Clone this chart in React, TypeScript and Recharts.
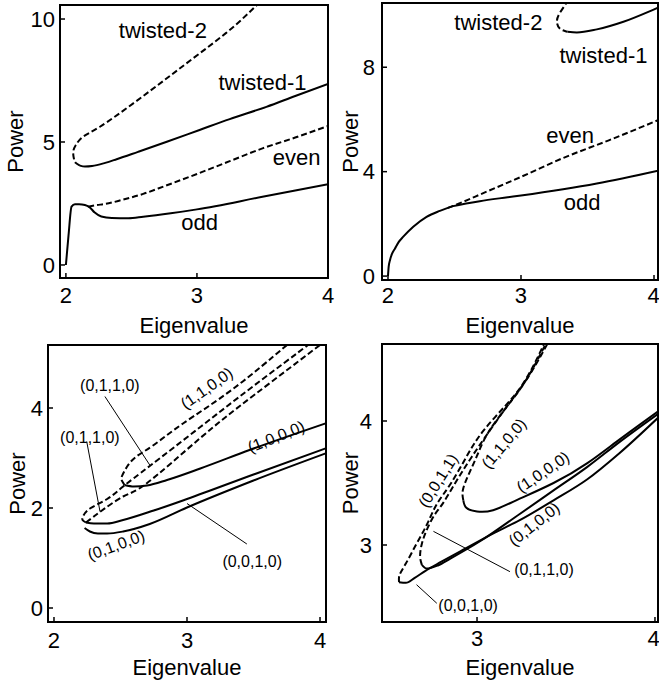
import React from 'react';
import { LineChart, Line, XAxis, YAxis, ReferenceArea, ReferenceLine, ReferenceDot } from 'recharts';

type Pt = { x: number; y: number };
const P = (x: number, y: number): Pt => ({ x, y });

// ---- panel 1 (top left) ----
const p1Odd = [P(2.0, 0), P(2.02, 1.2), P(2.043, 2.37), P(2.069, 2.47), P(2.1, 2.47), P(2.145, 2.44), P(2.18, 2.35), P(2.22, 2.13), P(2.27, 1.97), P(2.35, 1.91), P(2.476, 1.9), P(2.59, 1.96), P(2.8, 2.1), P(3.0, 2.26), P(3.5, 2.77), P(4.0, 3.28)];
const p1Even = [P(2.17, 2.37), P(2.23, 2.43), P(2.3, 2.48), P(2.425, 2.64), P(2.59, 2.89), P(2.75, 3.2), P(3.0, 3.7), P(3.25, 4.22), P(3.5, 4.74), P(3.75, 5.18), P(4.0, 5.65)];
const p1Twisted2 = [P(2.107, 4.04), P(2.075, 4.15), P(2.061, 4.33), P(2.056, 4.61), P(2.076, 4.88), P(2.132, 5.22), P(2.26, 5.62), P(2.514, 6.57), P(2.77, 7.59), P(3.02, 8.6), P(3.28, 9.69), P(3.52, 10.9)];
const p1Twisted1 = [P(2.107, 4.04), P(2.145, 4.0), P(2.2, 4.02), P(2.3, 4.15), P(2.387, 4.3), P(2.55, 4.6), P(2.77, 5.01), P(3.02, 5.49), P(3.25, 5.93), P(3.53, 6.43), P(3.75, 6.87), P(4.0, 7.36)];

// ---- panel 2 (top right) ----
const p2Odd = [P(2.0, 0), P(2.005, 0.35), P(2.015, 0.61), P(2.03, 0.85), P(2.053, 1.06), P(2.08, 1.3), P(2.115, 1.51), P(2.19, 1.89), P(2.29, 2.27), P(2.39, 2.5), P(2.49, 2.68), P(2.6, 2.79), P(2.69, 2.87), P(2.9, 3.02), P(3.0, 3.09), P(3.57, 3.55), P(4.03, 4.04)];
const p2Even = [P(2.45, 2.61), P(2.49, 2.69), P(2.6, 2.92), P(2.69, 3.12), P(2.9, 3.58), P(3.0, 3.8), P(3.32, 4.53), P(3.66, 5.2), P(4.03, 5.97)];
const p2Twisted2 = [P(3.35, 10.6), P(3.34, 10.45), P(3.29, 10.06), P(3.27, 9.74), P(3.29, 9.49), P(3.33, 9.39), P(3.35, 9.36)];
const p2Twisted1 = [P(3.35, 9.36), P(3.42, 9.33), P(3.57, 9.45), P(3.77, 9.74), P(3.98, 10.17), P(4.03, 10.28)];

// ---- panel 3 (bottom left) ----
const p3DashA = [P(2.24, 1.71), P(2.215, 1.76), P(2.22, 1.84), P(2.27, 1.99), P(2.4, 2.18), P(2.52, 2.43), P(2.72, 2.84), P(3.1, 3.62), P(3.5, 4.44), P(3.91, 5.26), P(3.95, 5.35)];
const p3DashB = [P(2.24, 1.71), P(2.3, 1.83), P(2.35, 1.93), P(2.52, 2.23), P(2.7, 2.5), P(3.1, 3.4), P(3.5, 4.25), P(4.0, 5.26), P(4.05, 5.37)];
const p3Dash1100 = [P(2.53, 2.46), P(2.51, 2.55), P(2.51, 2.63), P(2.55, 2.83), P(2.62, 3.03), P(2.75, 3.26), P(2.97, 3.69), P(3.35, 4.39), P(3.72, 5.19), P(3.8, 5.36)];
const p3Solid1000 = [P(2.53, 2.46), P(2.6, 2.43), P(2.7, 2.45), P(2.85, 2.56), P(3.1, 2.79), P(3.47, 3.16), P(4.05, 3.7)];
const p3SolidC = [P(2.24, 1.71), P(2.3, 1.69), P(2.4, 1.69), P(2.52, 1.76), P(2.75, 1.95), P(3.0, 2.18), P(3.5, 2.67), P(4.05, 3.2)];
const p3SolidD = [P(2.23, 1.6), P(2.27, 1.53), P(2.33, 1.49), P(2.4, 1.49), P(2.52, 1.53), P(2.72, 1.68), P(3.0, 2.01), P(3.5, 2.55), P(4.05, 3.1)];

// ---- panel 4 (bottom right) ----
const p4Dash0011 = [P(2.562, 2.7), P(2.565, 2.76), P(2.6, 2.85), P(2.66, 3.01), P(2.72, 3.17), P(2.774, 3.33), P(2.85, 3.49), P(2.94, 3.71), P(3.035, 3.92), P(3.17, 4.14), P(3.28, 4.35), P(3.39, 4.66)];
const p4Dash0110 = [P(2.69, 2.84), P(2.68, 2.91), P(2.69, 3.01), P(2.717, 3.12), P(2.76, 3.24), P(2.81, 3.34), P(2.886, 3.52), P(2.97, 3.71), P(3.07, 3.92), P(3.18, 4.14), P(3.29, 4.36), P(3.41, 4.66)];
const p4Dash1100 = [P(2.923, 3.36), P(2.92, 3.44), P(2.95, 3.56), P(3.0, 3.72), P(3.06, 3.9), P(3.17, 4.12), P(3.28, 4.34), P(3.4, 4.66)];
const p4Solid0010 = [P(2.562, 2.7), P(2.6, 2.695), P(2.65, 2.735), P(2.708, 2.79), P(2.8, 2.865), P(2.92, 2.96), P(3.1, 3.1), P(3.24, 3.2), P(3.43, 3.36), P(3.62, 3.53), P(3.8, 3.74), P(4.02, 4.03)];
const p4Solid0100 = [P(2.69, 2.84), P(2.717, 2.81), P(2.78, 2.835), P(2.85, 2.89), P(3.017, 3.03), P(3.24, 3.25), P(3.43, 3.44), P(3.62, 3.63), P(3.8, 3.83), P(4.02, 4.06)];
const p4Solid1000 = [P(2.923, 3.36), P(2.94, 3.3), P(3.0, 3.27), P(3.09, 3.28), P(3.22, 3.36), P(3.43, 3.5), P(3.62, 3.66), P(3.8, 3.85), P(4.02, 4.08)];

const FONT = '"Liberation Sans", Arial, Helvetica, sans-serif';

interface Curve { data: Pt[]; dashed?: boolean; type?: 'monotone' | 'natural' | 'linear' }
interface Note { x: number; y: number; text: string; angle?: number; size?: number }
interface Leader { from: Pt; to: Pt }

interface PanelProps {
  left: number; top: number; width: number; height: number;
  margin: { top: number; right: number; left: number; bottom: number };
  yWidth: number; xHeight: number;
  xDomain: [number, number]; yDomain: [number, number];
  xTicks: number[]; yTicks: number[];
  xTickMargin: number; yTickMargin: number;
  xLabelOffset: number; yLabelOffset: number;
  curves: Curve[]; notes: Note[]; leaders?: Leader[];
}

function Panel(p: PanelProps) {
  return (
    <div style={{ position: 'absolute', left: p.left, top: p.top }}>
      <LineChart width={p.width} height={p.height} margin={p.margin}>
        <XAxis
          type="number" dataKey="x" domain={p.xDomain} ticks={p.xTicks} allowDataOverflow
          axisLine={false} tickSize={-5} tickMargin={p.xTickMargin} height={p.xHeight}
          tick={{ fontSize: 22, fill: '#000' }} tickLine={{ stroke: '#000', strokeWidth: 1.5 }}
          label={{ value: 'Eigenvalue', position: 'insideBottom', offset: p.xLabelOffset, fontSize: 22, fill: '#000' }}
        />
        <YAxis
          type="number" domain={p.yDomain} ticks={p.yTicks} allowDataOverflow
          axisLine={false} tickSize={-5} tickMargin={p.yTickMargin} width={p.yWidth}
          tick={{ fontSize: 22, fill: '#000' }} tickLine={{ stroke: '#000', strokeWidth: 1.5 }}
          label={{ value: 'Power', angle: -90, position: 'insideLeft', offset: p.yLabelOffset, fontSize: 22, fill: '#000', style: { textAnchor: 'middle' } }}
        />
        <ReferenceArea x1={p.xDomain[0]} x2={p.xDomain[1]} y1={p.yDomain[0]} y2={p.yDomain[1]} fill="none" stroke="#000" strokeWidth={2} fillOpacity={0} />
        {p.curves.map((c, i) => (
          <Line
            key={`c-${i}`} data={c.data} dataKey="y" type={c.type || 'monotone'}
            stroke="#000" strokeWidth={2} strokeDasharray={c.dashed ? '6 3' : undefined}
            dot={false} activeDot={false} isAnimationActive={false}
          />
        ))}
        {(p.leaders || []).map((l, i) => (
          <ReferenceLine key={`l-${i}`} segment={[l.from, l.to]} stroke="#000" strokeWidth={1} />
        ))}
        {p.notes.map((n, i) => (
          <ReferenceDot
            key={`n-${i}`} x={n.x} y={n.y} r={0} fill="none" stroke="none"
            label={{ value: n.text, position: 'center', angle: n.angle || 0, fontSize: n.size || 22, fill: '#000' }}
          />
        ))}
      </LineChart>
    </div>
  );
}

export default function App() {
  return (
    <div style={{ position: 'absolute', left: 0, top: 0, width: 659, height: 684, background: '#fff', fontFamily: FONT, overflow: 'hidden' }}>
      <Panel
        left={0} top={0} width={340} height={340}
        margin={{ top: 5, right: 12, left: 0, bottom: 0 }} yWidth={60} xHeight={62}
        xDomain={[1.955, 4.0]} yDomain={[-0.53, 10.57]} xTicks={[2, 3, 4]} yTicks={[0, 5, 10]}
        xTickMargin={14} yTickMargin={10} xLabelOffset={7} yLabelOffset={15.5}
        curves={[
          { data: p1Odd },
          { data: p1Even, dashed: true },
          { data: p1Twisted2, dashed: true, type: 'natural' },
          { data: p1Twisted1 },
        ]}
        notes={[
          { x: 2.74, y: 9.55, text: 'twisted-2' },
          { x: 3.5, y: 7.44, text: 'twisted-1' },
          { x: 3.76, y: 4.39, text: 'even' },
          { x: 3.02, y: 1.75, text: 'odd' },
        ]}
      />
      <Panel
        left={330} top={0} width={329} height={340}
        margin={{ top: 3, right: 1, left: 0, bottom: 0 }} yWidth={52} xHeight={60}
        xDomain={[1.955, 4.03]} yDomain={[-0.15, 10.46]} xTicks={[2, 3, 4]} yTicks={[0, 4, 8]}
        xTickMargin={12} yTickMargin={12} xLabelOffset={7} yLabelOffset={20.5}
        curves={[
          { data: p2Odd },
          { data: p2Even, dashed: true },
          { data: p2Twisted2, dashed: true, type: 'natural' },
          { data: p2Twisted1 },
        ]}
        notes={[
          { x: 2.83, y: 9.73, text: 'twisted-2' },
          { x: 3.62, y: 8.47, text: 'twisted-1' },
          { x: 3.37, y: 5.4, text: 'even' },
          { x: 3.46, y: 2.84, text: 'odd' },
        ]}
      />
      <Panel
        left={0} top={340} width={340} height={344}
        margin={{ top: 5, right: 14, left: 0, bottom: 0 }} yWidth={48} xHeight={62}
        xDomain={[1.955, 4.045]} yDomain={[-0.28, 5.26]} xTicks={[2, 3, 4]} yTicks={[0, 2, 4]}
        xTickMargin={15} yTickMargin={10} xLabelOffset={9} yLabelOffset={17}
        curves={[
          { data: p3DashA, dashed: true, type: 'natural' },
          { data: p3DashB, dashed: true, type: 'natural' },
          { data: p3Dash1100, dashed: true, type: 'natural' },
          { data: p3Solid1000 },
          { data: p3SolidC },
          { data: p3SolidD },
        ]}
        leaders={[
          { from: P(2.383, 4.23), to: P(2.72, 2.86) },
          { from: P(2.246, 3.33), to: P(2.346, 1.93) },
          { from: P(3.45, 1.28), to: P(3.0, 2.09) },
        ]}
        notes={[
          { x: 3.147, y: 4.4, text: '(1,1,0,0)', angle: -35, size: 16 },
          { x: 3.67, y: 3.43, text: '(1,0,0,0)', angle: -22, size: 16 },
          { x: 2.466, y: 1.26, text: '(0,1,0,0)', angle: -20, size: 16 },
          { x: 2.42, y: 4.46, text: '(0,1,1,0)', size: 16 },
          { x: 2.27, y: 3.42, text: '(0,1,1,0)', size: 16 },
          { x: 3.49, y: 0.94, text: '(0,0,1,0)', size: 16 },
        ]}
      />
      <Panel
        left={330} top={340} width={329} height={344}
        margin={{ top: 4, right: 1, left: 0, bottom: 0 }} yWidth={52} xHeight={62}
        xDomain={[2.466, 4.017]} yDomain={[2.379, 4.621]} xTicks={[3, 4]} yTicks={[3, 4]}
        xTickMargin={13} yTickMargin={15} xLabelOffset={9} yLabelOffset={20.5}
        curves={[
          { data: p4Dash0011, dashed: true, type: 'natural' },
          { data: p4Dash0110, dashed: true, type: 'natural' },
          { data: p4Dash1100, dashed: true, type: 'natural' },
          { data: p4Solid0010 },
          { data: p4Solid0100 },
          { data: p4Solid1000, type: 'natural' },
        ]}
        leaders={[
          { from: P(2.755, 3.11), to: P(3.185, 2.785) },
          { from: P(2.66, 2.68), to: P(2.774, 2.53) },
        ]}
        notes={[
          { x: 2.78, y: 3.52, text: '(0,0,1,1)', angle: -58, size: 16 },
          { x: 3.15, y: 3.82, text: '(1,1,0,0)', angle: -50, size: 16 },
          { x: 3.37, y: 3.59, text: '(1,0,0,0)', angle: -34, size: 16 },
          { x: 3.32, y: 3.17, text: '(0,1,0,0)', angle: -38, size: 16 },
          { x: 3.376, y: 2.8, text: '(0,1,1,0)', size: 16 },
          { x: 2.95, y: 2.516, text: '(0,0,1,0)', size: 16 },
        ]}
      />
    </div>
  );
}
